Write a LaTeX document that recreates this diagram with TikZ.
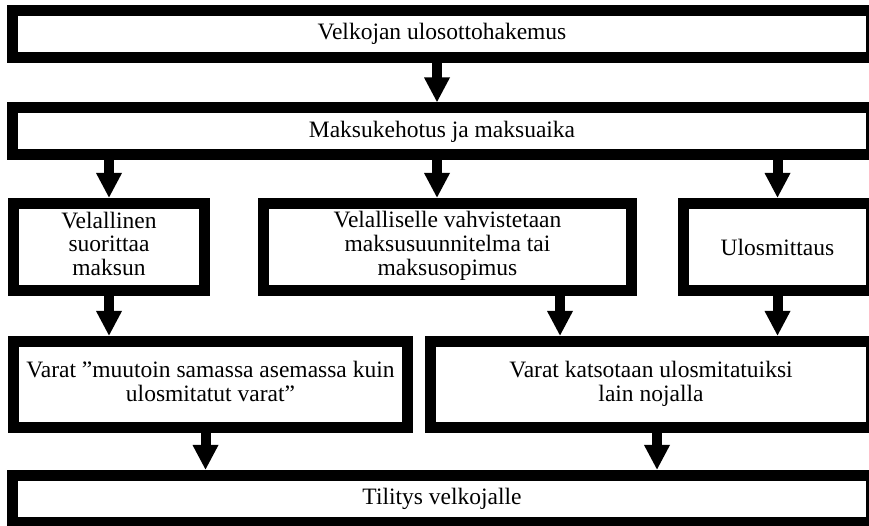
\documentclass[tikz,border=0pt]{standalone}
\usepackage{fontspec}
\setmainfont{Liberation Serif}
\usepackage{tikz}
\usetikzlibrary{arrows.meta,positioning,calc}

\begin{document}
\begin{tikzpicture}[x=1pt, y=1pt,
    box/.style={draw, line width=11pt, fill=white, inner sep=2pt, align=center,
                font=\fontsize{23.5}{22}\selectfont},
    arr/.style={line width=10pt, -{Triangle[width=24pt,length=25pt]}}]
    \useasboundingbox (0,0) rectangle (869,526);

    % Top level
    \node[box, minimum width=859, minimum height=47] (hakemus) at (442,492) {Velkojan ulosottohakemus};
    \node[box, minimum width=859, minimum height=47] (kehotus) at (442,394.5) {Maksukehotus ja maksuaika};

    % Three alternatives
    \node[box, minimum width=191, minimum height=87] (suoritus) at (109,279) {\strut Velallinen\\\strut suorittaa\\\strut maksun};
    \node[box, minimum width=368, minimum height=87] (suunnitelma) at (447.5,279) {\strut Velalliselle vahvistetaan\\\strut maksusuunnitelma tai\\\strut maksusopimus};
    \node[box, minimum width=188, minimum height=87] (ulosmittaus) at (777.5,279) {Ulosmittaus};

    % Status of the assets
    \node[box, minimum width=394, minimum height=86] (muutoin) at (210.5,141.5) {\strut Varat ”muutoin samassa asemassa kuin\\\strut ulosmitatut varat”};
    \node[box, minimum width=441, minimum height=86] (katsotaan) at (651,141.5) {\strut Varat katsotaan ulosmitatuiksi\\\strut lain nojalla};

    % Bottom
    \node[box, minimum width=859, minimum height=47] (tilitys) at (442,27) {Tilitys velkojalle};

    % Arrows
    \draw[arr] ([xshift=-5pt]hakemus.south) -- ([xshift=-5pt]kehotus.north);
    \draw[arr] (kehotus.south -| suoritus.north) -- (suoritus.north);
    \draw[arr] ([xshift=-5pt]kehotus.south) -- ([xshift=-5pt]kehotus.south |- suunnitelma.north);
    \draw[arr] (kehotus.south -| ulosmittaus.north) -- (ulosmittaus.north);
    \draw[arr] (suoritus.south) -- (suoritus.south |- muutoin.north);
    \draw[arr] ([xshift=112.5pt]suunnitelma.south) -- ([xshift=112.5pt]suunnitelma.south |- katsotaan.north);
    \draw[arr] (ulosmittaus.south) -- (ulosmittaus.south |- katsotaan.north);
    \draw[arr] ([xshift=-5pt]muutoin.south) -- ([xshift=-5pt]muutoin.south |- tilitys.north);
    \draw[arr] ([xshift=6pt]katsotaan.south) -- ([xshift=6pt]katsotaan.south |- tilitys.north);
\end{tikzpicture}
\end{document}
